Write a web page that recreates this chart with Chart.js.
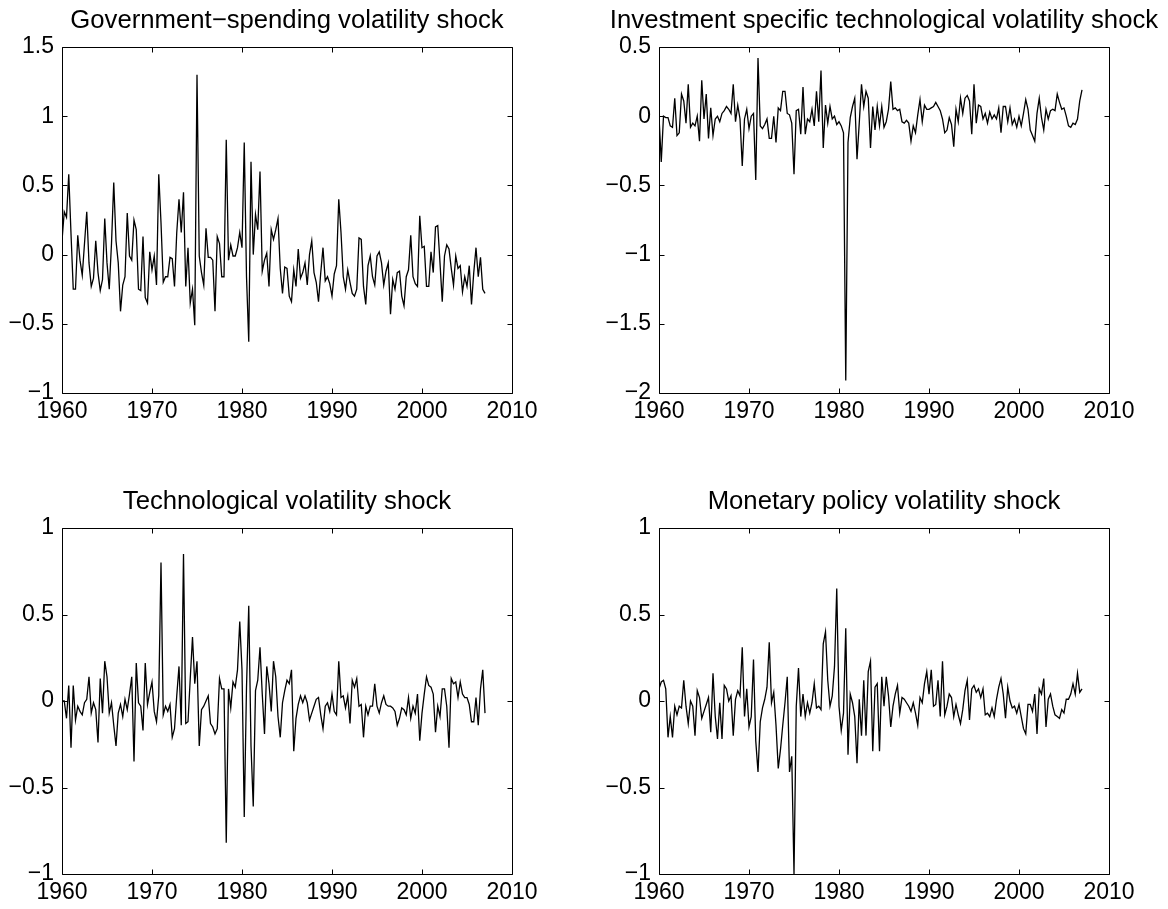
<!DOCTYPE html>
<html>
<head>
<meta charset="utf-8">
<title>Volatility shocks</title>
<script src="https://cdn.jsdelivr.net/npm/chart.js@4.4.1/dist/chart.umd.min.js"></script>
<style>
  html, body { margin: 0; padding: 0; background: #fff; overflow: hidden; }
  body { width: 1168px; height: 909px; position: relative; }
  canvas { position: absolute; }
</style>
</head>
<body>
<canvas id="gov" width="574" height="440" style="left:0px;top:0px"></canvas>
<canvas id="inv" width="574" height="440" style="left:597px;top:0px"></canvas>
<canvas id="tech" width="574" height="440" style="left:0px;top:481px"></canvas>
<canvas id="mon" width="574" height="440" style="left:597px;top:481px"></canvas>
<script>
//
// Four volatility shock series, quarterly from 1960Q1
//

const startYear = 1960;
const yearTicks = [1960, 1970, 1980, 1990, 2000, 2010];

const govShock = [
  0.10, 0.31, 0.27, 0.58, 0.15, -0.25, -0.25, 0.14, -0.04, -0.15,
  0.08, 0.31, -0.06, -0.23, -0.17, 0.10, -0.13, -0.26, -0.18, 0.26,
  -0.06, -0.25, 0.08, 0.52, 0.10, -0.06, -0.41, -0.22, -0.16, 0.30,
  -0.01, -0.04, 0.25, 0.18, -0.25, -0.26, 0.13, -0.31, -0.35, 0.02,
  -0.11, -0.01, -0.22, 0.58, 0.23, -0.20, -0.16, -0.16, -0.02, -0.03,
  -0.23, 0.16, 0.40, 0.16, 0.45, -0.23, 0.05, -0.35, -0.25, -0.51,
  1.30, -0.01, -0.13, -0.22, 0.19, -0.02, -0.02, -0.04, -0.41, 0.13,
  0.08, -0.16, -0.16, 0.83, -0.04, 0.07, -0.01, -0.01, 0.05, 0.16,
  0.05, 0.81, -0.16, -0.63, 0.67, 0.00, 0.29, 0.18, 0.60, -0.12,
  -0.04, 0.01, -0.23, 0.18, 0.11, 0.18, 0.26, -0.10, -0.28, -0.09,
  -0.10, -0.30, -0.34, -0.11, -0.23, 0.04, -0.17, -0.13, -0.06, -0.22,
  0.00, 0.10, -0.13, -0.20, -0.34, -0.13, 0.05, -0.19, -0.16, -0.21,
  -0.30, -0.14, -0.08, 0.40, 0.16, -0.16, -0.25, -0.11, -0.20, -0.28,
  -0.30, -0.25, 0.12, 0.11, -0.23, -0.36, -0.08, -0.01, -0.16,
  -0.22, -0.01, 0.02, -0.06, -0.22, -0.12, -0.06, -0.43, -0.18, -0.25,
  -0.13, -0.12, -0.30, -0.37, -0.16, -0.11, 0.14, -0.16, -0.21, -0.23,
  0.28, 0.05, 0.06, -0.23, -0.23, 0.02, -0.13, 0.20, 0.21, -0.06,
  -0.34, -0.01, 0.07, 0.04, -0.10, -0.22, -0.01, -0.10, -0.08, -0.27,
  -0.16, -0.23, -0.08, -0.36, -0.13, 0.05, -0.16, -0.02, -0.25, -0.28
];

const invShock = [
  0.00, -0.33, 0.00, -0.01, -0.01, -0.07, -0.08, 0.13, -0.14, -0.12,
  0.16, 0.11, -0.05, 0.23, -0.08, -0.05, -0.07, 0.00, -0.18, 0.26,
  -0.02, 0.16, -0.16, 0.06, -0.14, -0.02, 0.00, -0.04, 0.02, 0.04,
  0.07, 0.05, 0.02, 0.23, -0.04, 0.08, -0.02, -0.36, -0.02, 0.05,
  -0.09, 0.00, 0.02, -0.46, 0.42, -0.07, -0.09, -0.06, -0.02, -0.16,
  -0.16, 0.00, -0.19, 0.06, 0.04, 0.18, 0.18, 0.02, 0.01, -0.05,
  -0.42, 0.04, 0.05, -0.13, 0.21, -0.13, -0.02, -0.04, 0.05, -0.07,
  0.18, -0.04, 0.33, -0.23, 0.08, -0.05, 0.07, -0.02, 0.00, -0.06,
  -0.04, -0.07, -0.12, -1.91, -0.19, -0.01, 0.07, 0.13, -0.31, -0.05,
  0.23, 0.07, 0.18, 0.13, -0.23, 0.07, -0.10, 0.07, -0.07, 0.07,
  -0.08, -0.04, 0.05, 0.25, 0.05, 0.06, 0.04, 0.05, -0.04, -0.05,
  -0.03, -0.05, -0.18, -0.07, -0.12, 0.01, 0.12, -0.04, 0.08, 0.05,
  0.05, 0.06, 0.07, 0.10, 0.07, 0.04, -0.02, -0.12, -0.10, -0.01,
  -0.06, -0.22, 0.05, -0.04, 0.13, 0.02, 0.13,
  0.15, 0.11, -0.13, 0.23, -0.05, 0.08, 0.07, -0.02, 0.02, -0.05,
  0.03, -0.02, 0.01, -0.02, 0.06, -0.12, 0.07, 0.07, -0.04, 0.06,
  -0.06, -0.02, -0.08, 0.00, -0.07, 0.02, 0.12, 0.05, -0.10, -0.14,
  -0.18, 0.02, 0.13, -0.01, -0.10, 0.05, -0.02, 0.04, 0.05, 0.04,
  0.16, 0.10, 0.05, 0.06, 0.00, -0.07, -0.08, -0.05, -0.06, -0.02, 0.11, 0.19
];

const techShock = [
  0.00, 0.00, -0.10, 0.09, -0.27, 0.09, -0.11, -0.03, -0.06, -0.08,
  -0.01, 0.01, 0.14, -0.07, -0.01, -0.05, -0.24, 0.13, -0.07, 0.23,
  0.14, -0.07, -0.01, -0.14, -0.26, -0.07, -0.02, -0.09, 0.01, -0.05,
  0.04, 0.14, -0.35, 0.22, -0.01, -0.03, -0.17, 0.22, -0.02, 0.05,
  0.11, -0.06, -0.12, 0.03, 0.80, -0.08, -0.03, -0.06, -0.02, -0.21,
  -0.16, 0.03, 0.20, -0.14, 0.85, -0.13, -0.12, 0.13, 0.37, 0.10,
  0.23, -0.26, -0.05, -0.03, 0.00, 0.03, -0.13, -0.15, -0.19, -0.16,
  0.13, 0.07, 0.07, -0.82, 0.07, -0.04, 0.11, 0.08, 0.18, 0.46,
  0.18, -0.67, 0.08, 0.55, -0.26, -0.61, 0.06, 0.12, 0.31, 0.04,
  -0.19, 0.20, 0.10, -0.06, 0.23, 0.14, -0.09, -0.21, -0.01, 0.06,
  0.12, 0.10, 0.18, -0.29, -0.10, -0.02, 0.03, -0.01, 0.03, -0.01,
  -0.11, -0.07, -0.03, 0.01, 0.02, -0.08, -0.16, -0.03, -0.01, -0.06,
  0.04, -0.06, -0.08, 0.23, 0.02, 0.03, -0.04, 0.03, -0.13, 0.12,
  0.08, 0.13, -0.03, -0.02, -0.21, -0.03, -0.08, -0.03, -0.03, 0.10,
  -0.03, -0.07, -0.01, 0.03, -0.02, -0.03, -0.03, -0.04, -0.06, -0.14,
  -0.10, -0.04, -0.05, -0.08, 0.02, -0.10, -0.03, -0.07, 0.04, -0.23,
  -0.07, 0.04, 0.14, 0.09, 0.08, 0.04, -0.18, -0.03, -0.09, 0.07,
  0.07, -0.03, -0.27, 0.13, 0.10, 0.11, 0.02, 0.11, 0.04, 0.02,
  0.02, -0.02, -0.12, -0.12, 0.02, -0.14, 0.07, 0.18, -0.07
];

const monShock = [
  0.07, 0.11, 0.12, 0.07, -0.21, -0.09, -0.21, -0.03, -0.08, -0.03,
  -0.04, 0.12, -0.03, -0.13, 0.00, -0.03, -0.20, 0.06, 0.02, -0.10,
  -0.06, -0.02, 0.02, -0.18, 0.16, -0.09, -0.22, -0.01, -0.22, 0.09,
  0.07, 0.00, 0.03, -0.20, 0.01, 0.06, 0.03, 0.31, -0.09, 0.07,
  -0.15, -0.09, 0.24, -0.23, -0.41, -0.12, -0.04, 0.01, 0.08, 0.34,
  -0.01, 0.05, -0.14, -0.39, -0.28, -0.14, -0.01, 0.14, -0.41, -0.32,
  -1.00, -0.03, 0.19, -0.09, 0.04, -0.09, -0.01, -0.07, -0.01, 0.10,
  -0.04, -0.03, -0.05, 0.33, 0.40, 0.12, -0.03, 0.03, 0.20, 0.65,
  -0.03, -0.17, -0.07, 0.42, -0.31, 0.04, -0.01, -0.09, -0.36, 0.01,
  -0.20, 0.12, -0.20, 0.17, 0.23, -0.29, 0.08, 0.10, -0.29, 0.14,
  -0.03, 0.14, 0.03, -0.15, -0.03, 0.04, 0.09, -0.07, 0.02, 0.01,
  -0.01, -0.03, -0.06, -0.01, -0.07, -0.14, 0.02, -0.01, 0.10, 0.17,
  0.04, 0.18, -0.03, -0.02, 0.12, -0.09, 0.23, -0.08, -0.03, 0.04,
  0.02, -0.09, -0.02, -0.08, -0.13, -0.05, 0.06, 0.12, -0.11, 0.07,
  0.09, 0.05, 0.07, 0.02, 0.07, -0.08, -0.07, -0.09, -0.04, -0.09,
  0.01, 0.08, 0.13, 0.04, -0.10, 0.08, 0.00, -0.04, -0.03, -0.07,
  -0.02, -0.09, -0.16, -0.19, -0.02, -0.02, -0.06, 0.04, -0.19, 0.07,
  0.04, 0.13, -0.15, 0.01, 0.04, -0.03, -0.08, -0.09, -0.10, -0.05,
  -0.07, 0.01, 0.01, 0.04, 0.10, 0.04, 0.16, 0.05, 0.07
];

Chart.defaults.font.family = '"Liberation Sans", Arial, Helvetica, sans-serif';
Chart.defaults.color = '#000';

// MATLAB-like box with inward ticks on all four sides.
const boxTicks = {
  id: 'boxTicks',
  afterDatasetsDraw(chart) {
    const { ctx, chartArea: a, scales } = chart;
    const len = 5;
    const l = Math.round(a.left) + 0.5, r = Math.round(a.right) + 0.5;
    const t = Math.round(a.top) + 0.5, b = Math.round(a.bottom) + 0.5;
    ctx.save();
    ctx.strokeStyle = '#000';
    ctx.lineWidth = 1;
    ctx.beginPath();
    ctx.rect(l, t, r - l, b - t);
    for (const tick of scales.x.ticks) {
      const px = Math.round(scales.x.getPixelForValue(tick.value)) + 0.5;
      ctx.moveTo(px, b); ctx.lineTo(px, b - len);
      ctx.moveTo(px, t); ctx.lineTo(px, t + len);
    }
    for (const tick of scales.y.ticks) {
      const py = Math.round(scales.y.getPixelForValue(tick.value)) + 0.5;
      ctx.moveTo(l, py); ctx.lineTo(l + len, py);
      ctx.moveTo(r, py); ctx.lineTo(r - len, py);
    }
    ctx.stroke();
    ctx.restore();
  }
};

function fmtTick(v) {
  const s = String(Math.abs(Math.round(v * 10) / 10));
  return v < 0 ? '\u2212' + s : s;
}

function makePanel(id, title, values, yMin, yMax) {
  const points = values.map((v, i) => ({ x: startYear + i / 4, y: v }));
  const tickFont = { size: 23 };
  return new Chart(document.getElementById(id), {
    type: 'line',
    data: {
      datasets: [{
        data: points,
        borderColor: '#000',
        borderWidth: 1.3,
        pointRadius: 0,
        tension: 0,
        fill: false
      }]
    },
    options: {
      responsive: false,
      animation: false,
      events: [],
      layout: { padding: 0 },
      plugins: {
        legend: { display: false },
        tooltip: { enabled: false },
        title: {
          display: true,
          text: title,
          color: '#000',
          font: { size: 25.7, weight: 'normal', lineHeight: '30px' },
          padding: { top: 6, bottom: 11 }
        }
      },
      scales: {
        x: {
          type: 'linear',
          min: yearTicks[0],
          max: yearTicks[yearTicks.length - 1],
          afterBuildTicks: (scale) => { scale.ticks = yearTicks.map((v) => ({ value: v })); },
          ticks: {
            callback: (v) => String(v),
            font: tickFont,
            padding: 5,
            autoSkip: false,
            maxRotation: 0
          },
          grid: { display: false, drawTicks: false },
          border: { display: false },
          afterFit: (scale) => { scale.height = 47; }
        },
        y: {
          min: yMin,
          max: yMax,
          ticks: {
            stepSize: 0.5,
            callback: fmtTick,
            font: tickFont,
            padding: 8
          },
          grid: { display: false, drawTicks: false },
          border: { display: false },
          afterFit: (scale) => { scale.width = 62; }
        },
        yRight: {
          position: 'right',
          min: yMin,
          max: yMax,
          ticks: { display: false },
          grid: { display: false, drawTicks: false },
          border: { display: false },
          afterFit: (scale) => { scale.width = 62; }
        }
      }
    },
    plugins: [boxTicks]
  });
}

makePanel('gov', 'Government\u2212spending volatility shock', govShock, -1, 1.5);
makePanel('inv', 'Investment specific technological volatility shock', invShock, -2, 0.5);
makePanel('tech', 'Technological volatility shock', techShock, -1, 1);
makePanel('mon', 'Monetary policy volatility shock', monShock, -1, 1);
</script>
</body>
</html>
